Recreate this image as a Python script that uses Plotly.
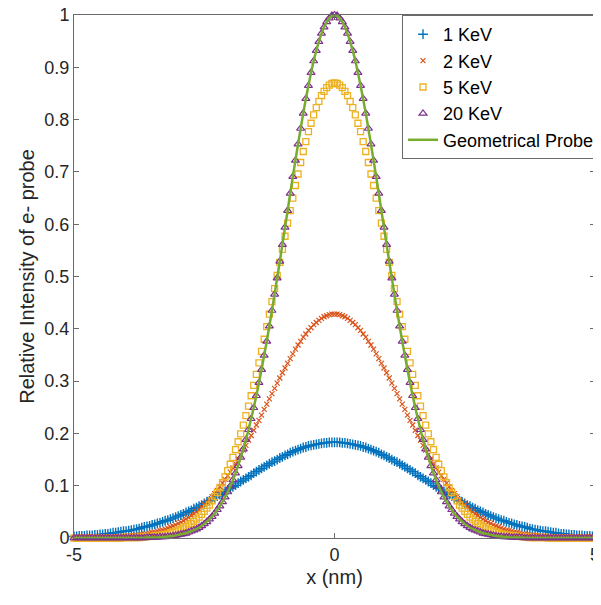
import plotly.graph_objects as go

# sample positions (nm)
x_pts = [
    -5.0, -4.95, -4.9, -4.85, -4.8, -4.75, -4.7, -4.65, -4.6, -4.55,
    -4.5, -4.45, -4.4, -4.35, -4.3, -4.25, -4.2, -4.15, -4.1, -4.05,
    -4.0, -3.95, -3.9, -3.85, -3.8, -3.75, -3.7, -3.65, -3.6, -3.55,
    -3.5, -3.45, -3.4, -3.35, -3.3, -3.25, -3.2, -3.15, -3.1, -3.05,
    -3.0, -2.95, -2.9, -2.85, -2.8, -2.75, -2.7, -2.65, -2.6, -2.55,
    -2.5, -2.45, -2.4, -2.35, -2.3, -2.25, -2.2, -2.15, -2.1, -2.05,
    -2.0, -1.95, -1.9, -1.85, -1.8, -1.75, -1.7, -1.65, -1.6, -1.55,
    -1.5, -1.45, -1.4, -1.35, -1.3, -1.25, -1.2, -1.15, -1.1, -1.05,
    -1.0, -0.95, -0.9, -0.85, -0.8, -0.75, -0.7, -0.65, -0.6, -0.55,
    -0.5, -0.45, -0.4, -0.35, -0.3, -0.25, -0.2, -0.15, -0.1, -0.05,
    0.0,
    0.05, 0.1, 0.15, 0.2, 0.25, 0.3, 0.35, 0.4, 0.45, 0.5,
    0.55, 0.6, 0.65, 0.7, 0.75, 0.8, 0.85, 0.9, 0.95, 1.0,
    1.05, 1.1, 1.15, 1.2, 1.25, 1.3, 1.35, 1.4, 1.45, 1.5,
    1.55, 1.6, 1.65, 1.7, 1.75, 1.8, 1.85, 1.9, 1.95, 2.0,
    2.05, 2.1, 2.15, 2.2, 2.25, 2.3, 2.35, 2.4, 2.45, 2.5,
    2.55, 2.6, 2.65, 2.7, 2.75, 2.8, 2.85, 2.9, 2.95, 3.0,
    3.05, 3.1, 3.15, 3.2, 3.25, 3.3, 3.35, 3.4, 3.45, 3.5,
    3.55, 3.6, 3.65, 3.7, 3.75, 3.8, 3.85, 3.9, 3.95, 4.0,
    4.05, 4.1, 4.15, 4.2, 4.25, 4.3, 4.35, 4.4, 4.45, 4.5,
    4.55, 4.6, 4.65, 4.7, 4.75, 4.8, 4.85, 4.9, 4.95, 5.0,
]

kev1 = [
    0.003, 0.003, 0.004, 0.004, 0.004, 0.005, 0.005, 0.005, 0.006, 0.006,
    0.007, 0.007, 0.008, 0.008, 0.009, 0.010, 0.010, 0.011, 0.012, 0.013,
    0.013, 0.014, 0.015, 0.016, 0.017, 0.018, 0.020, 0.021, 0.022, 0.023,
    0.025, 0.026, 0.028, 0.029, 0.031, 0.033, 0.034, 0.036, 0.038, 0.040,
    0.042, 0.044, 0.046, 0.049, 0.051, 0.053, 0.056, 0.058, 0.061, 0.063,
    0.066, 0.069, 0.071, 0.074, 0.077, 0.080, 0.083, 0.086, 0.089, 0.092,
    0.095, 0.098, 0.101, 0.105, 0.108, 0.111, 0.114, 0.117, 0.120, 0.124,
    0.127, 0.130, 0.133, 0.136, 0.139, 0.142, 0.145, 0.147, 0.150, 0.153,
    0.155, 0.158, 0.160, 0.163, 0.165, 0.167, 0.169, 0.171, 0.173, 0.174,
    0.176, 0.177, 0.178, 0.179, 0.180, 0.181, 0.182, 0.182, 0.183, 0.183,
    0.183,
    0.183, 0.183, 0.182, 0.182, 0.181, 0.180, 0.179, 0.178, 0.177, 0.176,
    0.174, 0.173, 0.171, 0.169, 0.167, 0.165, 0.163, 0.160, 0.158, 0.155,
    0.153, 0.150, 0.147, 0.145, 0.142, 0.139, 0.136, 0.133, 0.130, 0.127,
    0.124, 0.120, 0.117, 0.114, 0.111, 0.108, 0.105, 0.101, 0.098, 0.095,
    0.092, 0.089, 0.086, 0.083, 0.080, 0.077, 0.074, 0.071, 0.069, 0.066,
    0.063, 0.061, 0.058, 0.056, 0.053, 0.051, 0.049, 0.046, 0.044, 0.042,
    0.040, 0.038, 0.036, 0.034, 0.033, 0.031, 0.029, 0.028, 0.026, 0.025,
    0.023, 0.022, 0.021, 0.020, 0.018, 0.017, 0.016, 0.015, 0.014, 0.013,
    0.013, 0.012, 0.011, 0.010, 0.010, 0.009, 0.008, 0.008, 0.007, 0.007,
    0.006, 0.006, 0.005, 0.005, 0.005, 0.004, 0.004, 0.004, 0.003, 0.003,
]

kev2 = [
    0.0, 0.0, 0.0, 0.0, 0.0, 0.0, 0.001, 0.001, 0.001, 0.001,
    0.001, 0.001, 0.001, 0.001, 0.002, 0.002, 0.002, 0.002, 0.003, 0.003,
    0.003, 0.004, 0.004, 0.005, 0.005, 0.006, 0.007, 0.007, 0.008, 0.009,
    0.010, 0.011, 0.013, 0.014, 0.015, 0.017, 0.019, 0.021, 0.023, 0.025,
    0.028, 0.030, 0.033, 0.036, 0.039, 0.043, 0.046, 0.050, 0.054, 0.059,
    0.064, 0.069, 0.074, 0.079, 0.085, 0.091, 0.098, 0.105, 0.112, 0.119,
    0.126, 0.134, 0.142, 0.151, 0.159, 0.168, 0.177, 0.187, 0.196, 0.206,
    0.216, 0.225, 0.235, 0.246, 0.256, 0.266, 0.276, 0.286, 0.296, 0.306,
    0.316, 0.325, 0.334, 0.343, 0.352, 0.361, 0.369, 0.376, 0.384, 0.390,
    0.397, 0.402, 0.408, 0.412, 0.416, 0.420, 0.423, 0.425, 0.427, 0.428,
    0.428,
    0.428, 0.427, 0.425, 0.423, 0.420, 0.416, 0.412, 0.408, 0.402, 0.397,
    0.390, 0.384, 0.376, 0.369, 0.361, 0.352, 0.343, 0.334, 0.325, 0.316,
    0.306, 0.296, 0.286, 0.276, 0.266, 0.256, 0.246, 0.235, 0.225, 0.216,
    0.206, 0.196, 0.187, 0.177, 0.168, 0.159, 0.151, 0.142, 0.134, 0.126,
    0.119, 0.112, 0.105, 0.098, 0.091, 0.085, 0.079, 0.074, 0.069, 0.064,
    0.059, 0.054, 0.050, 0.046, 0.043, 0.039, 0.036, 0.033, 0.030, 0.028,
    0.025, 0.023, 0.021, 0.019, 0.017, 0.015, 0.014, 0.013, 0.011, 0.010,
    0.009, 0.008, 0.007, 0.007, 0.006, 0.005, 0.005, 0.004, 0.004, 0.003,
    0.003, 0.003, 0.002, 0.002, 0.002, 0.002, 0.001, 0.001, 0.001, 0.001,
    0.001, 0.001, 0.001, 0.001, 0.0, 0.0, 0.0, 0.0, 0.0, 0.0,
]

kev5 = [
    0.0, 0.0, 0.0, 0.0, 0.0, 0.0, 0.0, 0.0, 0.0, 0.0,
    0.0, 0.0, 0.0, 0.0, 0.0, 0.0, 0.0, 0.0, 0.0, 0.001,
    0.001, 0.001, 0.001, 0.001, 0.001, 0.001, 0.002, 0.002, 0.002, 0.003,
    0.003, 0.004, 0.005, 0.005, 0.006, 0.007, 0.008, 0.010, 0.011, 0.013,
    0.015, 0.017, 0.019, 0.022, 0.025, 0.028, 0.032, 0.036, 0.040, 0.045,
    0.051, 0.057, 0.063, 0.071, 0.079, 0.087, 0.096, 0.106, 0.117, 0.129,
    0.141, 0.154, 0.169, 0.184, 0.199, 0.216, 0.234, 0.252, 0.272, 0.292,
    0.313, 0.335, 0.357, 0.380, 0.404, 0.428, 0.452, 0.477, 0.502, 0.527,
    0.552, 0.577, 0.602, 0.626, 0.650, 0.674, 0.696, 0.718, 0.739, 0.758,
    0.777, 0.793, 0.809, 0.823, 0.835, 0.846, 0.854, 0.861, 0.866, 0.869,
    0.870,
    0.869, 0.866, 0.861, 0.854, 0.846, 0.835, 0.823, 0.809, 0.793, 0.777,
    0.758, 0.739, 0.718, 0.696, 0.674, 0.650, 0.626, 0.602, 0.577, 0.552,
    0.527, 0.502, 0.477, 0.452, 0.428, 0.404, 0.380, 0.357, 0.335, 0.313,
    0.292, 0.272, 0.252, 0.234, 0.216, 0.199, 0.184, 0.169, 0.154, 0.141,
    0.129, 0.117, 0.106, 0.096, 0.087, 0.079, 0.071, 0.063, 0.057, 0.051,
    0.045, 0.040, 0.036, 0.032, 0.028, 0.025, 0.022, 0.019, 0.017, 0.015,
    0.013, 0.011, 0.010, 0.008, 0.007, 0.006, 0.005, 0.005, 0.004, 0.003,
    0.003, 0.002, 0.002, 0.002, 0.001, 0.001, 0.001, 0.001, 0.001, 0.001,
    0.001, 0.0, 0.0, 0.0, 0.0, 0.0, 0.0, 0.0, 0.0, 0.0,
    0.0, 0.0, 0.0, 0.0, 0.0, 0.0, 0.0, 0.0, 0.0, 0.0,
]

kev20 = [
    0.0, 0.0, 0.0, 0.0, 0.0, 0.0, 0.0, 0.0, 0.0, 0.0,
    0.0, 0.0, 0.0, 0.0, 0.0, 0.0, 0.0, 0.0, 0.0, 0.0,
    0.0, 0.0, 0.0, 0.0, 0.0, 0.0, 0.0, 0.0, 0.001, 0.001,
    0.001, 0.001, 0.001, 0.002, 0.002, 0.002, 0.003, 0.003, 0.004, 0.005,
    0.006, 0.007, 0.008, 0.009, 0.011, 0.013, 0.015, 0.017, 0.020, 0.023,
    0.027, 0.031, 0.036, 0.041, 0.047, 0.054, 0.061, 0.069, 0.078, 0.088,
    0.099, 0.111, 0.124, 0.138, 0.154, 0.170, 0.188, 0.207, 0.228, 0.249,
    0.272, 0.297, 0.322, 0.349, 0.376, 0.405, 0.435, 0.466, 0.497, 0.529,
    0.561, 0.594, 0.626, 0.659, 0.691, 0.722, 0.753, 0.783, 0.812, 0.840,
    0.865, 0.890, 0.912, 0.932, 0.949, 0.965, 0.977, 0.987, 0.994, 0.999,
    1.0,
    0.999, 0.994, 0.987, 0.977, 0.965, 0.949, 0.932, 0.912, 0.890, 0.865,
    0.840, 0.812, 0.783, 0.753, 0.722, 0.691, 0.659, 0.626, 0.594, 0.561,
    0.529, 0.497, 0.466, 0.435, 0.405, 0.376, 0.349, 0.322, 0.297, 0.272,
    0.249, 0.228, 0.207, 0.188, 0.170, 0.154, 0.138, 0.124, 0.111, 0.099,
    0.088, 0.078, 0.069, 0.061, 0.054, 0.047, 0.041, 0.036, 0.031, 0.027,
    0.023, 0.020, 0.017, 0.015, 0.013, 0.011, 0.009, 0.008, 0.007, 0.006,
    0.005, 0.004, 0.003, 0.003, 0.002, 0.002, 0.002, 0.001, 0.001, 0.001,
    0.001, 0.001, 0.0, 0.0, 0.0, 0.0, 0.0, 0.0, 0.0, 0.0,
    0.0, 0.0, 0.0, 0.0, 0.0, 0.0, 0.0, 0.0, 0.0, 0.0,
    0.0, 0.0, 0.0, 0.0, 0.0, 0.0, 0.0, 0.0, 0.0, 0.0,
]

# geometrical probe, drawn as a line
x_geo = [
    -5.0, -4.9, -4.8, -4.7, -4.6, -4.5, -4.4, -4.3, -4.2, -4.1,
    -4.0, -3.9, -3.8, -3.7, -3.6, -3.5, -3.4, -3.3, -3.2, -3.1,
    -3.0, -2.9, -2.8, -2.7, -2.6, -2.5, -2.4, -2.3, -2.2, -2.1,
    -2.0, -1.9, -1.8, -1.7, -1.6, -1.5, -1.4, -1.3, -1.2, -1.1,
    -1.0, -0.9, -0.8, -0.7, -0.6, -0.5, -0.4, -0.3, -0.2, -0.1,
    0.0,
    0.1, 0.2, 0.3, 0.4, 0.5, 0.6, 0.7, 0.8, 0.9, 1.0,
    1.1, 1.2, 1.3, 1.4, 1.5, 1.6, 1.7, 1.8, 1.9, 2.0,
    2.1, 2.2, 2.3, 2.4, 2.5, 2.6, 2.7, 2.8, 2.9, 3.0,
    3.1, 3.2, 3.3, 3.4, 3.5, 3.6, 3.7, 3.8, 3.9, 4.0,
    4.1, 4.2, 4.3, 4.4, 4.5, 4.6, 4.7, 4.8, 4.9, 5.0,
]
geo = [
    0.0, 0.0, 0.0, 0.0, 0.0, 0.0, 0.0, 0.0, 0.0, 0.0,
    0.0, 0.0, 0.0, 0.0, 0.001, 0.001, 0.001, 0.002, 0.003, 0.004,
    0.006, 0.008, 0.011, 0.015, 0.020, 0.027, 0.036, 0.047, 0.061, 0.078,
    0.099, 0.124, 0.154, 0.188, 0.228, 0.272, 0.322, 0.376, 0.435, 0.497,
    0.561, 0.626, 0.691, 0.753, 0.812, 0.865, 0.912, 0.949, 0.977, 0.994,
    1.0,
    0.994, 0.977, 0.949, 0.912, 0.865, 0.812, 0.753, 0.691, 0.626, 0.561,
    0.497, 0.435, 0.376, 0.322, 0.272, 0.228, 0.188, 0.154, 0.124, 0.099,
    0.078, 0.061, 0.047, 0.036, 0.027, 0.020, 0.015, 0.011, 0.008, 0.006,
    0.004, 0.003, 0.002, 0.001, 0.001, 0.001, 0.0, 0.0, 0.0, 0.0,
    0.0, 0.0, 0.0, 0.0, 0.0, 0.0, 0.0, 0.0, 0.0, 0.0,
]

y_ticks = [0, 0.1, 0.2, 0.3, 0.4, 0.5, 0.6, 0.7, 0.8, 0.9, 1]
y_labels = ["0", "0.1", "0.2", "0.3", "0.4", "0.5", "0.6", "0.7", "0.8", "0.9", "1"]
x_ticks = [-5, 0, 5]
x_labels = ["-5", "0", "5"]

for s in (kev1, kev2, kev5, kev20):
    assert len(s) == len(x_pts), len(s)
assert len(geo) == len(x_geo)

FONT = "Liberation Sans, Arial, sans-serif"
TXT = "#262626"

fig = go.Figure()

def marker_trace(y, name, symbol, color, size, lw):
    return go.Scatter(
        x=x_pts, y=y, name=name, mode="markers", cliponaxis=False,
        marker=dict(symbol=symbol, size=size, color=color,
                    line=dict(color=color, width=lw)),
    )

fig.add_trace(marker_trace(kev1, "1 KeV", "cross-thin-open", "#0072BD", 7, 1.4))
fig.add_trace(marker_trace(kev2, "2 KeV", "x-thin-open", "#D95319", 5, 1.2))
fig.add_trace(marker_trace(kev5, "5 KeV", "square-open", "#EDB120", 6, 1.3))
fig.add_trace(marker_trace(kev20, "20 KeV", "triangle-up-open", "#7E2F8E", 7, 1.2))
fig.add_trace(go.Scatter(
    x=x_geo, y=geo, name="Geometrical Probe", mode="lines", cliponaxis=False,
    line=dict(color="#77AC30", width=2.5, shape="spline"),
))

axis_common = dict(
    showline=True, linecolor="#6a6a6a", linewidth=1, mirror="ticks",
    ticks="inside", ticklen=5, tickcolor="#6a6a6a",
    showgrid=False, zeroline=False, ticklabeloverflow="allow",
    automargin=False,
    tickfont=dict(family=FONT, size=18, color=TXT),
)

# the page body has an 8px margin, so the figure is shifted by that much
fig.update_layout(
    width=593, height=597,
    margin=dict(l=66, r=6, t=7, b=67, autoexpand=False),
    paper_bgcolor="white", plot_bgcolor="white",
    font=dict(family=FONT, color=TXT),
    xaxis=dict(range=[-5, 5], tickvals=x_ticks, ticktext=x_labels,
               title=dict(text="x (nm)", font=dict(family=FONT, size=20, color=TXT), standoff=6),
               **axis_common),
    yaxis=dict(range=[0, 1], tickvals=y_ticks, ticktext=y_labels,
               title=dict(text="Relative Intensity of e- probe",
                          font=dict(family=FONT, size=20, color=TXT), standoff=4),
               **axis_common),
    legend=dict(
        x=1.0096, y=1, xanchor="right", yanchor="top",
        bgcolor="white", bordercolor="#6a6a6a", borderwidth=1,
        font=dict(family=FONT, size=18, color="black"),
        tracegroupgap=0,
    ),
    showlegend=True,
)

fig.write_html("out.html")
